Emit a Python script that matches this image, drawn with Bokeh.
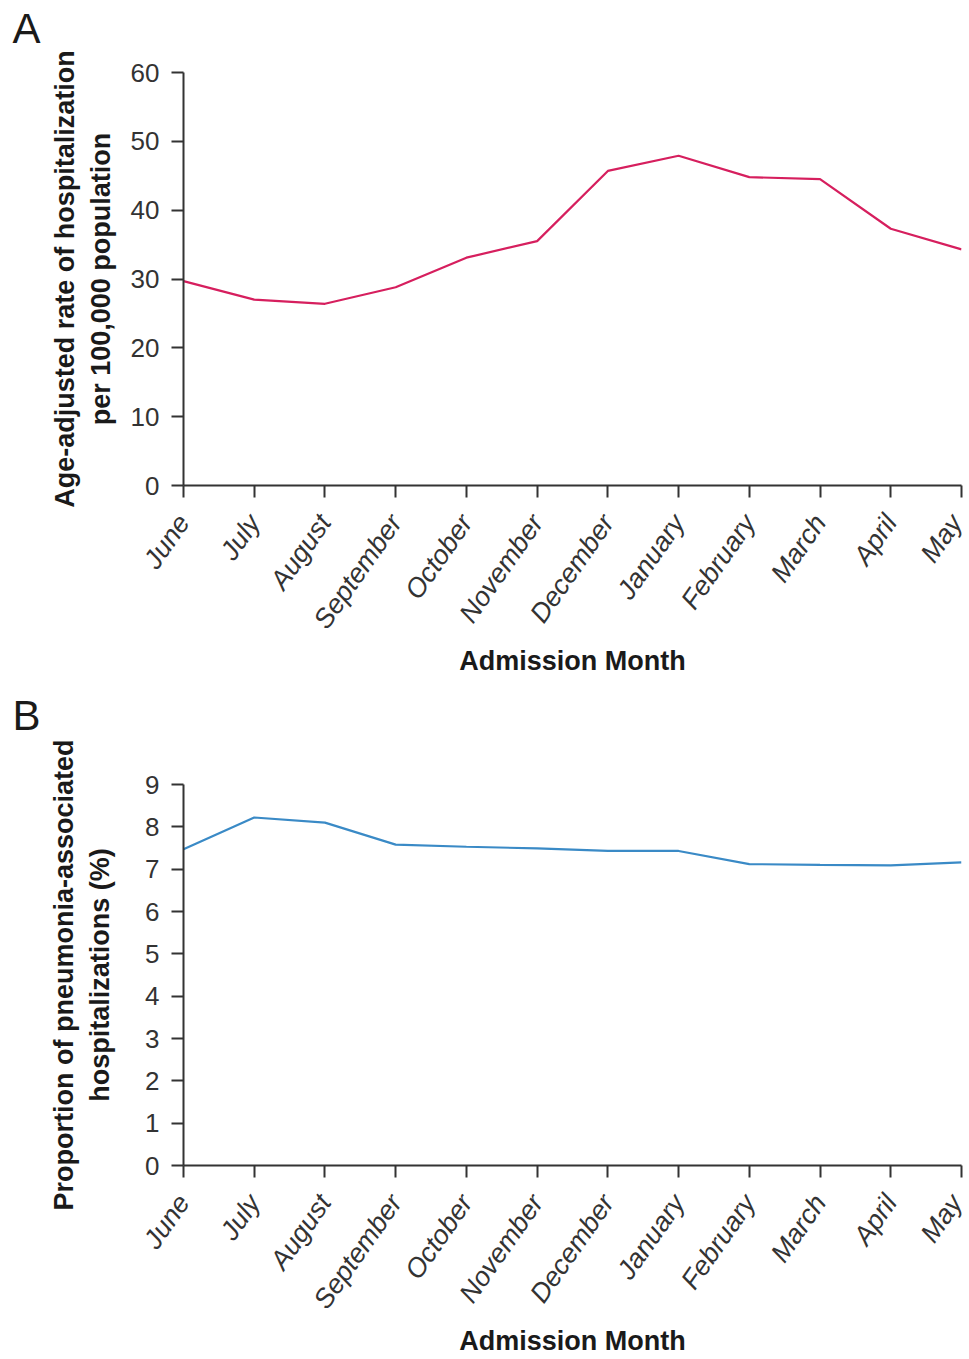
from bokeh.plotting import figure
from bokeh.models import Range1d, FixedTicker, LinearAxis
from bokeh.layouts import column
from bokeh.embed import file_html
from bokeh.resources import INLINE

months = ["June", "July", "August", "September", "October", "November",
          "December", "January", "February", "March", "April", "May"]
rate = [29.7, 27.0, 26.4, 28.8, 33.1, 35.5, 45.7, 47.9, 44.8, 44.5, 37.3, 34.3]
proportion = [7.47, 8.22, 8.10, 7.58, 7.53, 7.49, 7.43, 7.43, 7.12, 7.10, 7.09, 7.16]
rate_ticks = [0, 10, 20, 30, 40, 50, 60]
prop_ticks = [0, 1, 2, 3, 4, 5, 6, 7, 8, 9]

FONT = "Liberation Sans"
DARK = "#333333"


def make_panel(values, yticks, color, ylabel, letter, height, top, frame_h,
               title_gap, ylabel_standoff):
    xs = list(range(len(months)))
    p = figure(width=968, height=height, output_backend="svg", toolbar_location=None,
               x_range=Range1d(0, len(months) - 1),
               y_range=Range1d(yticks[0], yticks[-1]),
               min_border_left=183, min_border_right=7,
               min_border_top=top, min_border_bottom=height - top - frame_h)
    p.line(xs, values, line_color=color, line_width=2.2)

    p.outline_line_color = None
    p.xgrid.visible = False
    p.ygrid.visible = False
    p.background_fill_color = "white"
    p.border_fill_color = "white"

    xax = p.below[0]
    yax = p.left[0]
    for ax in (xax, yax):
        ax.axis_line_color = DARK
        ax.axis_line_width = 2
        ax.major_tick_line_color = DARK
        ax.major_tick_line_width = 2
        ax.major_tick_out = 12
        ax.major_tick_in = 0
        ax.minor_tick_line_color = None
        ax.major_label_text_font = FONT
        ax.major_label_text_color = DARK
        ax.axis_label_text_font = FONT
        ax.axis_label_text_font_style = "bold"
        ax.axis_label_text_color = "#1a1a1a"
        ax.axis_label_text_font_size = "27px"

    xax.ticker = FixedTicker(ticks=xs)
    xax.major_label_overrides = {i: m for i, m in enumerate(months)}
    xax.major_label_orientation = 0.96
    xax.major_label_text_font_style = "italic"
    xax.major_label_text_font_size = "27px"
    xax.major_label_standoff = 20
    xax.axis_label = "Admission Month"
    xax.axis_label_standoff = 0

    yax.ticker = FixedTicker(ticks=yticks)
    yax.major_label_text_font_size = "26px"
    yax.major_label_standoff = 12
    yax.axis_label = ylabel
    yax.axis_label_standoff = ylabel_standoff

    # invisible spacer between the frame and the panel letter
    spacer = LinearAxis(ticker=FixedTicker(ticks=[xs[0]]),
                        major_label_overrides={xs[0]: ""},
                        major_label_text_font_size="0px",
                        axis_line_color=None,
                        major_tick_line_color=None, minor_tick_line_color=None,
                        major_tick_out=title_gap, major_tick_in=0,
                        major_label_standoff=0)
    p.add_layout(spacer, "above")

    p.title.text = letter
    p.title.align = "left"
    p.title.offset = -171
    p.title.text_font = FONT
    p.title.text_font_style = "normal"
    p.title.text_font_size = "42px"
    p.title.text_color = "#1a1a1a"
    p.title.standoff = 0
    return p


pa = make_panel(rate, rate_ticks, "#d61f5e",
                "Age-adjusted rate of hospitalization\nper 100,000 population",
                "A", 686, 72, 413, 21, 12)
pb = make_panel(proportion, prop_ticks, "#3a8ac6",
                "Proportion of pneumonia-associated\nhospitalizations (%)",
                "B", 672, 98, 386, 46, 27)

layout = column(pa, pb, spacing=0)
open("out.html", "w").write(file_html(layout, INLINE))
